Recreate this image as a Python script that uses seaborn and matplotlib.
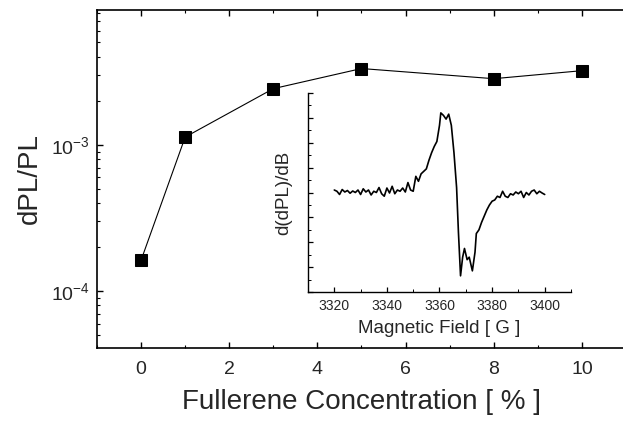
import numpy as np
import pandas as pd
import seaborn as sns
import matplotlib.pyplot as plt
from matplotlib.ticker import MultipleLocator, LogLocator, NullFormatter

# === DATA ===
# main plot: PL change vs fullerene content
conc = [0, 1, 3, 5, 8, 10]
dpl = [1.63e-4, 1.13e-3, 2.42e-3, 3.32e-3, 2.83e-3, 3.21e-3]

# inset: field-derivative spectrum (arb. units)
field = [3320, 3321, 3322, 3323, 3324, 3325, 3326, 3327, 3328, 3329,
         3330, 3331, 3332, 3333, 3334, 3335, 3336, 3337, 3338, 3339,
         3340, 3341, 3342, 3343, 3344, 3345, 3346, 3347, 3348, 3349,
         3350, 3351, 3352, 3353, 3354, 3355, 3356, 3357, 3358, 3359,
         3360, 3360.5, 3361.5, 3362.5, 3363.5, 3364.5, 3365.5, 3366.5, 3367.2, 3368,
         3368.8, 3369.5, 3370.5, 3371.3, 3372.5, 3373.5, 3374, 3375, 3376, 3377,
         3378, 3379, 3380, 3381, 3382, 3383, 3384, 3385, 3386, 3387,
         3388, 3389, 3390, 3391, 3392, 3393, 3394, 3395, 3396, 3397,
         3398, 3399, 3400]
signal = [0.10, 0.05, -0.08, 0.12, 0.02, 0.08, -0.03, 0.06, 0.00, 0.10,
          -0.08, 0.15, 0.02, 0.10, -0.10, 0.05, 0.00, 0.20, -0.05, -0.15,
          0.18, -0.02, 0.25, -0.05, 0.10, 0.05, 0.18, 0.02, 0.40, 0.10,
          0.05, 0.65, 0.45, 0.75, 0.85, 0.95, 1.30, 1.60, 1.85, 2.05,
          2.70, 3.20, 3.10, 2.95, 3.15, 2.70, 1.60, 0.20, -1.60, -3.35,
          -2.60, -2.25, -2.70, -2.60, -3.15, -2.40, -1.65, -1.50, -1.20, -0.95,
          -0.70, -0.50, -0.35, -0.30, -0.15, -0.20, 0.05, -0.15, -0.20, -0.05,
          -0.10, 0.02, -0.05, 0.05, -0.20, 0.00, -0.10, 0.05, 0.10, -0.05,
          0.05, -0.02, -0.08]

main_df = pd.DataFrame({"conc": conc, "dpl": dpl})
inset_df = pd.DataFrame({"field": field, "signal": signal})

sns.set_theme(style="ticks")
plt.rcParams["font.family"] = ["Liberation Sans", "DejaVu Sans"]
plt.rcParams["mathtext.fontset"] = "custom"
plt.rcParams["mathtext.rm"] = "Liberation Sans"

fig = plt.figure(figsize=(6.23, 4.24), dpi=100)

# === MAIN AXES ===
# right edge sits just past the figure border, like the cropped original
ax = fig.add_axes([97 / 623, 1 - 348 / 424, 529 / 623, 338.5 / 424])
sns.lineplot(data=main_df, x="conc", y="dpl", ax=ax, color="black", lw=0.8,
             marker="s", markersize=9, markeredgecolor="black", markerfacecolor="black")
ax.set_yscale("log")
ax.set_xlim(-1, 11)
ax.set_ylim(4.1e-5, 8.4e-3)
ax.xaxis.set_major_locator(MultipleLocator(2))
ax.xaxis.set_minor_locator(MultipleLocator(1))
ax.yaxis.set_minor_locator(LogLocator(base=10, subs=np.arange(2, 10)))
ax.yaxis.set_minor_formatter(NullFormatter())
ax.tick_params(which="both", direction="in", top=True, right=False, color="black")
ax.tick_params(which="major", length=4.5, width=1.0, labelsize=14)
ax.tick_params(which="minor", length=2.5, width=0.8)
ax.tick_params(axis="x", which="major", pad=9)
ax.tick_params(axis="y", which="major", pad=5)
for sp in ax.spines.values():
    sp.set_linewidth(1.2)
    sp.set_color("black")
ax.set_xlabel("Fullerene Concentration [ % ]", fontsize=20, labelpad=8)
ax.set_ylabel("dPL/PL", fontsize=20, labelpad=6)

# === INSET ===
ins = fig.add_axes([308 / 623, 1 - 292 / 424, 263 / 623, 199 / 424])
sns.lineplot(data=inset_df, x="field", y="signal", ax=ins, color="black", lw=1.2)
ins.patch.set_alpha(0)
ins.spines["top"].set_visible(False)
ins.spines["right"].set_visible(False)
for sp in ["left", "bottom"]:
    ins.spines[sp].set_linewidth(1.0)
    ins.spines[sp].set_color("black")
ins.xaxis.set_major_locator(MultipleLocator(20))
ins.xaxis.set_minor_locator(MultipleLocator(10))
ins.yaxis.set_major_locator(MultipleLocator(1))
ins.yaxis.set_minor_locator(MultipleLocator(0.5))
ins.set_yticklabels([])
ins.tick_params(which="both", direction="in", color="black")
ins.tick_params(which="major", length=3.5, width=0.9, labelsize=10, pad=5)
ins.tick_params(which="minor", length=2, width=0.7)
ins.set_xlim(3310, 3410)
ins.set_ylim(-4, 4)
ins.set_xlabel("Magnetic Field [ G ]", fontsize=13.5, labelpad=5)
ins.set_ylabel("d(dPL)/dB", fontsize=13.5, labelpad=6)

fig.savefig("out.png", dpi=100)
